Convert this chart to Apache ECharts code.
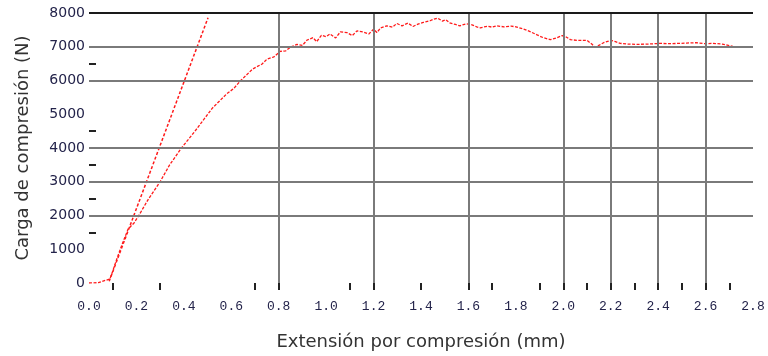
<!DOCTYPE html>
<html>
<head>
<meta charset="utf-8">
<script src="https://cdn.jsdelivr.net/npm/echarts@6/dist/echarts.min.js"></script>
<style>
  html, body { margin: 0; padding: 0; background: #fff; }
  #chart { width: 768px; height: 356px; }
</style>
</head>
<body>
<div id="chart"></div>
<script>
// curva medida: [extensión (mm), carga (N)]
const curva = [
  [0, 0], [0.04, 10], [0.088, 120], [0.10, 350], [0.118, 730], [0.14, 1150],
  [0.165, 1600], [0.19, 1780], [0.21, 2000], [0.25, 2480], [0.30, 3000],
  [0.34, 3500], [0.39, 4000], [0.447, 4500], [0.52, 5180], [0.58, 5600],
  [0.61, 5760], [0.64, 6000], [0.69, 6340], [0.73, 6490], [0.75, 6630],
  [0.78, 6700], [0.805, 6860], [0.83, 6880], [0.85, 6990], [0.877, 7070],
  [0.90, 7040], [0.92, 7200], [0.945, 7270], [0.96, 7150], [0.98, 7340],
  [1.0, 7300], [1.016, 7380], [1.04, 7260], [1.06, 7440], [1.088, 7420],
  [1.11, 7330], [1.13, 7470], [1.155, 7440], [1.18, 7380], [1.20, 7520],
  [1.214, 7420], [1.23, 7560], [1.256, 7620], [1.28, 7580], [1.298, 7690],
  [1.32, 7620], [1.345, 7700], [1.366, 7600], [1.39, 7680], [1.41, 7720],
  [1.438, 7770], [1.455, 7820], [1.47, 7850], [1.49, 7760], [1.505, 7800],
  [1.52, 7710], [1.545, 7660], [1.564, 7620], [1.59, 7680], [1.615, 7650],
  [1.635, 7590], [1.65, 7560], [1.68, 7610], [1.70, 7580], [1.72, 7620],
  [1.75, 7590], [1.78, 7610], [1.80, 7590], [1.83, 7530], [1.86, 7450],
  [1.89, 7350], [1.915, 7270], [1.945, 7210], [1.97, 7260], [1.995, 7330],
  [2.01, 7300], [2.03, 7210], [2.06, 7190], [2.10, 7190], [2.12, 7080],
  [2.135, 6980], [2.15, 7040], [2.17, 7120], [2.20, 7190], [2.22, 7150],
  [2.24, 7100], [2.27, 7080], [2.31, 7070], [2.36, 7080], [2.41, 7100],
  [2.45, 7090], [2.49, 7100], [2.52, 7110], [2.56, 7120], [2.60, 7090],
  [2.63, 7100], [2.67, 7080], [2.715, 7010]
];

// recta elástica (tangente)
const recta = [[0.085, 50], [0.502, 7860]];

// marcas de los ejes y líneas de rejilla, tal como aparecen
const xTicks = [0.1, 0.3, 0.7, 0.8, 1.1, 1.2, 1.4, 1.6, 1.7, 1.9, 2.0, 2.1, 2.2, 2.3, 2.4, 2.5, 2.6, 2.7];
const yTicks = [1500, 2000, 2500, 3000, 3500, 4000, 4500, 6000, 6500, 7000];
const xGrid = [0.8, 1.2, 1.6, 2.0, 2.2, 2.4, 2.6];
const yGrid = [2000, 3000, 4000, 6000, 7000];

const chart = echarts.init(document.getElementById('chart'));

const gridLines = [];
yGrid.forEach(v => gridLines.push({ yAxis: v }));
xGrid.forEach(v => gridLines.push({ xAxis: v }));
gridLines.push({ yAxis: 8000, lineStyle: { color: '#1a1a1a', width: 2 } });

const option = {
  animation: false,
  backgroundColor: '#fff',
  grid: { left: 89, right: 15, top: 13, bottom: 68 },
  xAxis: {
    type: 'value',
    min: 0,
    max: 2.8,
    interval: 0.2,
    name: 'Extensión por compresión (mm)',
    nameLocation: 'middle',
    nameGap: 50,
    nameTextStyle: { fontFamily: 'DejaVu Sans', fontSize: 18, color: '#333' },
    axisLine: { show: false },
    axisTick: { show: true, customValues: xTicks, length: 7, lineStyle: { color: '#222', width: 2 } },
    axisLabel: {
      margin: 17,
      fontFamily: 'Liberation Mono',
      fontSize: 13,
      color: '#23234a',
      formatter: v => v.toFixed(1)
    },
    splitLine: { show: false }
  },
  yAxis: {
    type: 'value',
    min: 0,
    max: 8000,
    interval: 1000,
    name: 'Carga de compresión (N)',
    nameLocation: 'middle',
    nameGap: 57,
    nameTextStyle: { fontFamily: 'DejaVu Sans', fontSize: 18, color: '#333' },
    axisLine: { show: false },
    axisTick: { show: true, inside: true, customValues: yTicks, length: 7, lineStyle: { color: '#222', width: 2 } },
    axisLabel: { margin: 4, fontFamily: 'DejaVu Sans', fontSize: 14, color: '#23234a', formatter: v => String(v) },
    splitLine: { show: false }
  },
  series: [
    {
      type: 'line',
      data: [],
      silent: true,
      z: 1,
      markLine: {
        silent: true,
        symbol: ['none', 'none'],
        label: { show: false },
        lineStyle: { color: '#7a7a7a', width: 2, type: 'solid' },
        data: gridLines
      }
    },
    {
      name: 'recta',
      type: 'line',
      data: recta,
      showSymbol: false,
      z: 3,
      lineStyle: { color: '#ff1a1a', width: 1.5, type: [3, 2] }
    },
    {
      name: 'curva',
      type: 'line',
      data: curva,
      showSymbol: false,
      z: 3,
      lineStyle: { color: '#ff1a1a', width: 1.3, type: [3, 1.5] }
    }
  ]
};

chart.setOption(option);
</script>
</body>
</html>
